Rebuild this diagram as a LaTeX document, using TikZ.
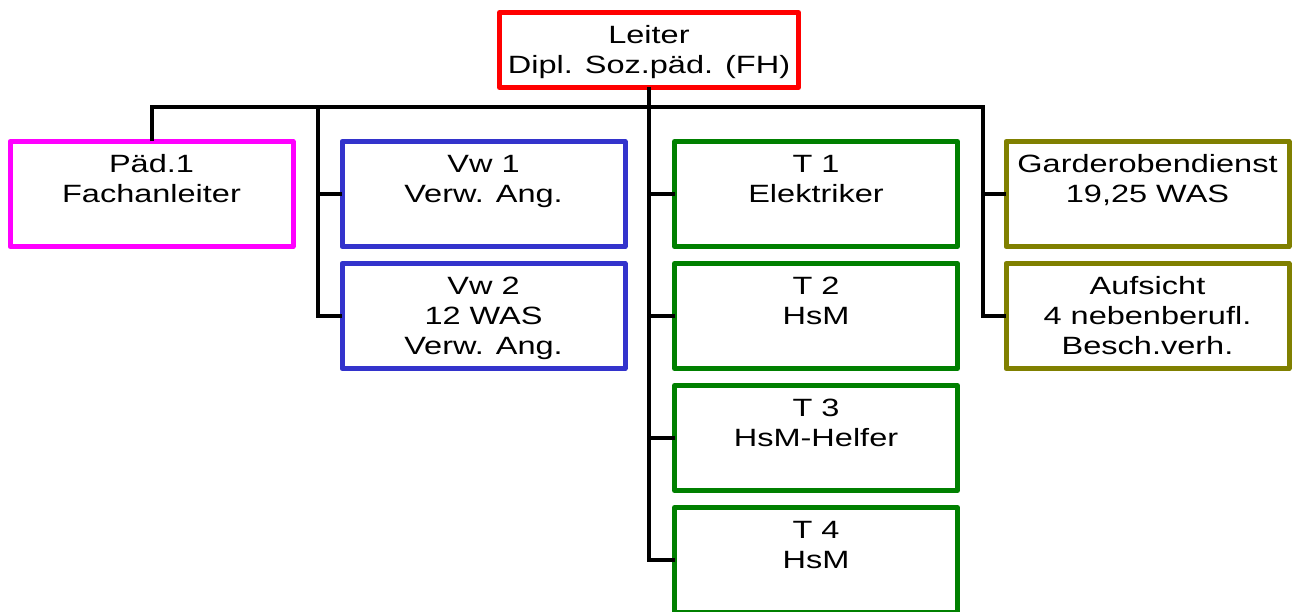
\documentclass[tikz,border=0pt]{standalone}
\usepackage{fontspec}
\setmainfont{Liberation Sans}[FakeStretch=1.3]
\definecolor{cred}{RGB}{255,0,0}
\definecolor{cmag}{RGB}{255,0,255}
\definecolor{cblue}{RGB}{51,51,204}
\definecolor{cgreen}{RGB}{0,128,0}
\definecolor{colive}{RGB}{128,128,0}
\newcommand\topstrut{\rule{0pt}{26pt}}
\tikzset{
  orgbox/.style={draw=#1, line width=5pt, line join=round, fill=white,
    minimum width=283pt, minimum height=105pt, inner sep=0pt, outer sep=0pt,
    align=center, text=black, font=\fontsize{25}{30}\selectfont},
  conn/.style={draw=black, line width=4pt}
}
\begin{document}
\begin{tikzpicture}[x=1pt,y=-1pt]
\useasboundingbox (0,0) rectangle (1295,612);
% top
\node[orgbox=cred, minimum width=299pt, minimum height=75pt] (leiter) at (649,50)
  {\topstrut Leiter\\Dipl. Soz.päd. (FH)\strut};
% column 1
\node[orgbox=cmag] (pad) at (151.5,194) {\topstrut Päd.1\\Fachanleiter\\\strut};
% column 2
\node[orgbox=cblue] (vw1) at (483.5,194) {\topstrut Vw 1\\Verw. Ang.\\\strut};
\node[orgbox=cblue] (vw2) at (483.5,316) {\topstrut Vw 2\\12 WAS\\Verw. Ang.\strut};
% column 3
\node[orgbox=cgreen] (t1) at (816,194) {\topstrut T 1\\Elektriker\\\strut};
\node[orgbox=cgreen] (t2) at (816,316) {\topstrut T 2\\HsM\\\strut};
\node[orgbox=cgreen] (t3) at (816,438) {\topstrut T 3\\HsM-Helfer\\\strut};
\node[orgbox=cgreen] (t4) at (816,560) {\topstrut T 4\\HsM\\\strut};
% column 4
\node[orgbox=colive] (gard) at (1147.5,194) {\topstrut Garderobendienst\\19,25 WAS\\\strut};
\node[orgbox=colive] (aufs) at (1147.5,316) {\topstrut Aufsicht\\4 nebenberufl.\\Besch.verh.\strut};
% bus coordinates
\coordinate (busR) at (983,107);
\coordinate (vwtop) at (318,107);
% connectors
\draw[conn] (pad.north) |- (busR) |- (aufs.west);
\draw[conn] (busR |- gard.west) -- (gard.west);
\draw[conn] (vwtop) |- (vw2.west);
\draw[conn] (vwtop |- vw1.west) -- (vw1.west);
\draw[conn] (leiter.south) |- (t4.west);
\draw[conn] (leiter.south |- t1.west) -- (t1.west);
\draw[conn] (leiter.south |- t2.west) -- (t2.west);
\draw[conn] (leiter.south |- t3.west) -- (t3.west);
\end{tikzpicture}
\end{document}
